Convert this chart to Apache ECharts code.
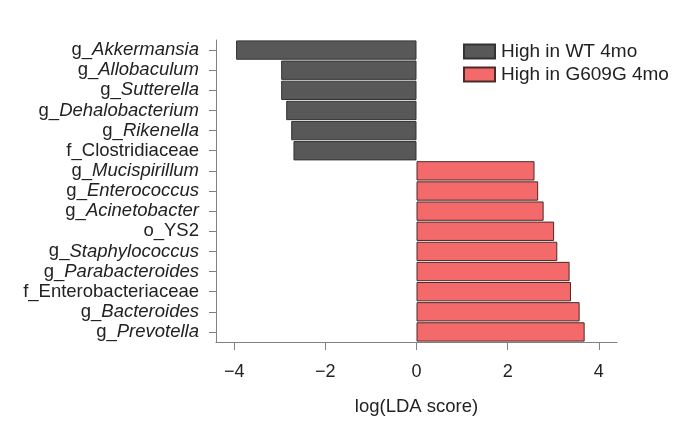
<!DOCTYPE html>
<html>
<head>
<meta charset="utf-8">
<script src="https://cdn.jsdelivr.net/npm/echarts@6/dist/echarts.min.js"></script>
<style>html,body{margin:0;padding:0;background:#fff;}#c{width:689px;height:435px;}</style>
</head>
<body>
<div id="c"></div>
<script>
const categories = ["g_Akkermansia","g_Allobaculum","g_Sutterella","g_Dehalobacterium","g_Rikenella","f_Clostridiaceae","g_Mucispirillum","g_Enterococcus","g_Acinetobacter","o_YS2","g_Staphylococcus","g_Parabacteroides","f_Enterobacteriaceae","g_Bacteroides","g_Prevotella"];
const ldaScores = [-3.96,-2.97,-2.97,-2.86,-2.75,-2.70,2.59,2.67,2.79,3.02,3.09,3.36,3.39,3.58,3.69];
const groups = ["WT","WT","WT","WT","WT","WT","G","G","G","G","G","G","G","G","G"];
const seriesNames = ["High in WT 4mo","High in G609G 4mo"];
const xTicks = [-4,-2,0,2,4];

const wtData = ldaScores.map((v,i)=> groups[i]==="WT" ? v : null);
const gData = ldaScores.map((v,i)=> groups[i]==="G" ? v : null);

const chart = echarts.init(document.getElementById('c'));
const FONT = 'Liberation Sans, Arial, sans-serif';
chart.setOption({
  animation:false,
  grid:{left:216,right:72,top:40,bottom:93},
  legend:{
    orient:'vertical', left:458, top:37, icon:'rect',
    itemWidth:31, itemHeight:14, itemGap:4,
    textStyle:{fontFamily:FONT,fontSize:19,color:'#222',padding:[0,0,0,1]},
    data:seriesNames
  },
  xAxis:{
    type:'value', min:-4.4, max:4.4,
    splitLine:{show:false},
    axisLine:{show:true,onZero:false,lineStyle:{color:'#808080',width:1}},
    axisTick:{show:true,length:8,lineStyle:{color:'#808080'},customValues:xTicks},
    axisLabel:{customValues:xTicks,margin:21,fontFamily:FONT,fontSize:18,color:'#222',
      formatter:v=>String(v).replace('-','\u2212')},
    name:'log(LDA score)', nameLocation:'middle', nameGap:55,
    nameTextStyle:{fontFamily:FONT,fontSize:18.5,color:'#222'}
  },
  yAxis:{
    type:'category', data:categories, inverse:true,
    axisLine:{show:true,onZero:false,lineStyle:{color:'#808080',width:1}},
    axisTick:{show:true,length:7,alignWithLabel:true,interval:0,lineStyle:{color:'#808080'}},
    axisLabel:{interval:0,margin:17,fontFamily:FONT,fontSize:18.5,color:'#222',
      formatter:function(v){
        const idx=v.indexOf('_');
        const pre=v.slice(0,idx+1), rest=v.slice(idx+1);
        if(pre==='g_') return '{n|'+pre+'}{i|'+rest+'}';
        return '{n|'+v+'}';
      },
      rich:{
        n:{fontFamily:FONT,fontSize:18.5,color:'#222'},
        i:{fontFamily:FONT,fontSize:18.5,color:'#222',fontStyle:'italic'}
      }
    }
  },
  series:[
    {name:seriesNames[0],type:'bar',data:wtData,barCategoryGap:'4%',barGap:'-100%',
     itemStyle:{color:'#585858',borderColor:'#333',borderWidth:1}},
    {name:seriesNames[1],type:'bar',data:gData,barCategoryGap:'4%',barGap:'-100%',
     itemStyle:{color:'#f46a6a',borderColor:'#4a2a2a',borderWidth:1}}
  ]
});
</script>
</body>
</html>
